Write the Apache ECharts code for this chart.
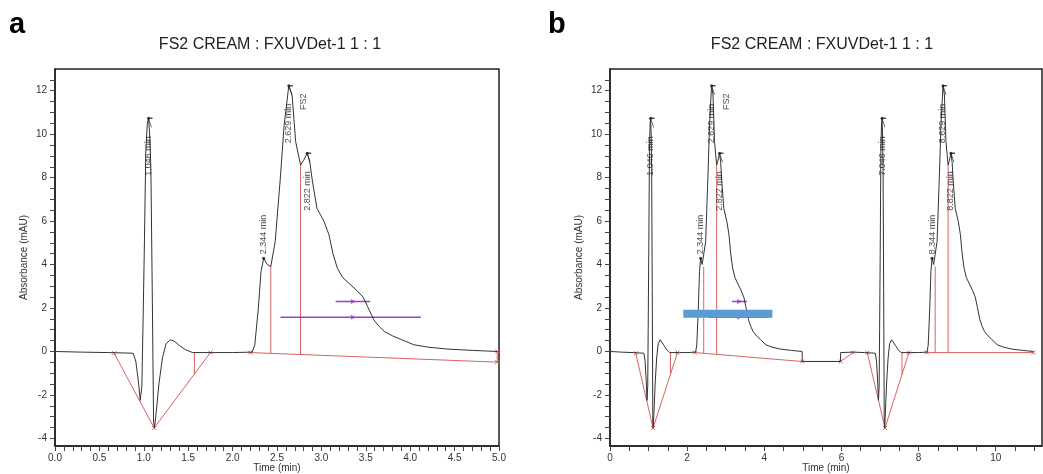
<!DOCTYPE html>
<html>
<head>
    <meta charset="utf-8"/>
    <title>FS2 CREAM : FXUVDet-1</title>
    <style>
        html, body {
            padding: 0;
            margin: 0;
            background: #fff;
        }

        #main {
            width: 1043px;
            height: 474px;
        }
    </style>
</head>
<body>
<div id="main"></div>
<script src="https://cdn.jsdelivr.net/npm/echarts@6/dist/echarts.min.js"></script>
<script>
    // one injection of the cream extract, 0 - 5 min
    var runTime = [0.00, 0.30, 0.60, 0.88, 0.91, 0.94, 0.96, 0.978, 0.99, 1.005, 1.023, 1.04, 1.053, 1.065,
        1.08, 1.095, 1.11, 1.12, 1.14, 1.17, 1.21, 1.25, 1.30, 1.34, 1.40, 1.47, 1.55, 1.80, 2.00, 2.22,
        2.25, 2.29, 2.32, 2.35, 2.39, 2.43, 2.48, 2.54, 2.58, 2.633, 2.67, 2.71, 2.765, 2.80, 2.84, 2.87,
        2.90, 2.95, 3.03, 3.085, 3.13, 3.18, 3.24, 3.32, 3.40, 3.47, 3.52, 3.59, 3.65, 3.71, 3.80, 3.90,
        4.04, 4.20, 4.42, 4.70, 4.98];
    var runAbs = [0.00, -0.03, -0.05, -0.08, -0.45, -1.4, -2.25, -1.6, 1.0, 4.5, 9.3, 10.5, 10.73, 10.1,
        8.4, 2.8, -3.2, -3.52, -2.8, -1.5, -0.3, 0.35, 0.54, 0.48, 0.28, 0.08, -0.05, -0.05, -0.05, -0.03,
        0.3, 2.0, 3.68, 4.29, 4.0, 3.91, 5.06, 8.12, 10.4, 12.23, 11.8, 9.66, 8.58, 8.8, 9.12, 8.7,
        7.8, 6.59, 5.98, 5.37, 4.5, 3.83, 3.4, 3.1, 2.8, 2.5, 2.07, 1.46, 1.15, 0.92, 0.72, 0.55,
        0.31, 0.2, 0.11, 0.05, 0.0];

    // panel b: baseline offset between the two injections, second one starts at 6 min
    var gapTime = [4.985, 5.975, 5.98];
    var gapAbs = [-0.46, -0.46, -0.05];
    var secondInjection = 6.0;

    var peakTime = [1.053, 2.35, 2.633, 2.84];
    var peakAbs = [10.73, 4.29, 12.23, 9.12];
    var peakNamesA = ['1.046 min', '2.344 min', '2.629 min', '2.822 min'];
    var peakNamesB = ['7.046 min', '8.344 min', '8.629 min', '8.822 min'];
    var peakAbove = [false, true, false, false];
    var namedPeak = 2; // FS2

    // integration baselines (red)
    var redPathsA = [
        [[0.666, -0.08], [1.117, -3.52], [1.75, -0.05]],
        [[2.2, -0.05], [4.98, -0.49], [4.98, 0.0]]
    ];
    var redPathsB = [
        [[0.666, -0.08], [1.117, -3.52], [1.75, -0.05]],
        [[2.2, -0.05], [4.98, -0.46], [5.98, -0.46], [6.3, -0.05]],
        [[6.67, -0.05], [7.13, -3.52], [7.75, -0.05]],
        [[8.21, -0.05], [10.98, -0.05]]
    ];
    // drop lines: time, from, to
    var dropsA = [[1.57, -0.05, -1.04], [2.43, -0.086, 3.91], [2.765, -0.139, 8.58]];
    var dropsB = [[1.57, -0.05, -1.04], [2.43, -0.084, 3.91], [2.765, -0.133, 8.58],
        [7.57, -0.05, -1.07], [8.43, -0.05, 3.91], [8.765, -0.05, 8.58]];

    // purple window markers and the blue highlight in b
    var hashFrom = [3.16, 2.54];
    var hashTo = [3.55, 4.12];
    var hashLevel = [2.30, 1.58];
    var hashMark = 3.36;
    var barFrom = 1.90, barTo = 4.21, barLevel = 1.74;

    var yLabels = [-4, -2, 0, 2, 4, 6, 8, 10, 12];
    var xLabelsA = [0, 0.5, 1.0, 1.5, 2.0, 2.5, 3.0, 3.5, 4.0, 4.5, 5.0];
    var xLabelsB = [0, 2, 4, 6, 8, 10];

    var TITLE = 'FS2 CREAM : FXUVDet-1 1 : 1';
    var FONT = 'Liberation Sans, Arial, sans-serif';
    var RED = '#d9635f';
    var PURPLE = '#9b3fd0';
    var INK = '#333';

    function steps(from, to, step) {
        var out = [];
        for (var v = from; v <= to + 1e-9; v += step) {
            out.push(Math.round(v * 100) / 100);
        }
        return out;
    }

    function pairs(xs, ys, shift) {
        var out = [];
        for (var i = 0; i < xs.length; i++) {
            out.push([xs[i] + (shift || 0), ys[i]]);
        }
        return out;
    }

    var traceA = pairs(runTime, runAbs);
    var traceB = traceA.concat(pairs(gapTime, gapAbs), pairs(runTime, runAbs, secondInjection));

    function lineSeries(idx, data, color, width, z) {
        return {
            type: 'line', xAxisIndex: idx, yAxisIndex: idx, data: data,
            symbol: 'none', showSymbol: false, silent: true, animation: false,
            lineStyle: {color: color, width: width}, z: z
        };
    }

    function redSeries(idx, paths, drops) {
        var out = [];
        paths.forEach(function (p) {
            var s = lineSeries(idx, p, RED, 1, 3);
            s.symbol = 'path://M0,0L10,10M10,0L0,10';
            s.showSymbol = true;
            s.symbolSize = 4;
            s.itemStyle = {color: 'none', borderColor: RED, borderWidth: 1};
            out.push(s);
        });
        drops.forEach(function (d) {
            out.push(lineSeries(idx, [[d[0], d[1]], [d[0], d[2]]], RED, 1, 3));
        });
        return out;
    }

    function hashSeries(idx) {
        var out = [];
        for (var i = 0; i < hashLevel.length; i++) {
            out.push(lineSeries(idx, [[hashFrom[i], hashLevel[i]], [hashTo[i], hashLevel[i]]], PURPLE, 1.5, 4));
        }
        out.push({
            type: 'scatter', xAxisIndex: idx, yAxisIndex: idx, silent: true, animation: false, z: 4,
            symbol: 'triangle', symbolRotate: -90, symbolSize: 5,
            itemStyle: {color: PURPLE},
            data: hashLevel.map(function (l) { return [hashMark, l]; })
        });
        return out;
    }

    function peakSeries(idx, names, shift) {
        var data = [];
        for (var i = 0; i < names.length; i++) {
            var above = peakAbove[i];
            data.push({
                value: [peakTime[i] + shift, peakAbs[i]],
                label: {
                    formatter: names[i],
                    align: above ? 'left' : 'right',
                    offset: above ? [4, 0] : [-18, 0]
                }
            });
        }
        return {
            type: 'scatter', xAxisIndex: idx, yAxisIndex: idx, silent: true, animation: false, z: 6,
            symbolSize: 3, itemStyle: {color: '#111'},
            label: {
                show: true, position: 'inside', rotate: 90, verticalAlign: 'middle',
                fontSize: 9, color: '#1a1a1a', fontFamily: FONT
            },
            data: data
        };
    }

    // little peak-apex flags drawn by the integrator
    function flagSeries(idx, shift) {
        var data = [];
        for (var i = 0; i < peakTime.length; i++) {
            if (!peakAbove[i]) {
                data.push([peakTime[i] + shift, peakAbs[i]]);
            }
        }
        return {
            type: 'scatter', xAxisIndex: idx, yAxisIndex: idx, silent: true, animation: false, z: 6,
            symbol: 'path://M0,0L4,0M0,0L3,9', symbolSize: [4, 9], symbolOffset: [2, 4.5],
            symbolKeepAspect: false,
            itemStyle: {color: 'none', borderColor: '#222', borderWidth: 1},
            data: data
        };
    }

    function fs2Series(idx) {
        return {
            type: 'scatter', xAxisIndex: idx, yAxisIndex: idx, silent: true, animation: false, z: 6,
            symbolSize: 0,
            label: {
                show: true, position: 'inside', rotate: 90, formatter: 'FS2',
                align: 'center', verticalAlign: 'middle', offset: [-16, 15],
                fontSize: 9, color: '#1a1a1a', fontFamily: FONT
            },
            data: [[peakTime[namedPeak], peakAbs[namedPeak]]]
        };
    }

    function yAxis(idx) {
        return {
            type: 'value', gridIndex: idx, min: -4.35, max: 13,
            name: 'Absorbance (mAU)', nameLocation: 'middle', nameGap: 26, nameMoveOverlap: false,
            nameTextStyle: {fontSize: 10, color: INK, fontFamily: FONT},
            axisLine: {show: true, lineStyle: {color: '#222', width: 1.5}},
            axisTick: {show: true, length: 5, customValues: steps(-4, 12.5, 0.5), lineStyle: {color: '#444'}},
            axisLabel: {customValues: yLabels, fontSize: 10, color: INK, margin: 8, fontFamily: FONT},
            splitLine: {show: false}
        };
    }

    function xAxis(idx, max, labels, tickStep, digits) {
        return {
            type: 'value', gridIndex: idx, min: 0, max: max,
            name: 'Time (min)', nameLocation: 'middle', nameGap: 17, nameMoveOverlap: false,
            nameTextStyle: {fontSize: 10, color: INK, fontFamily: FONT},
            axisLine: {show: true, onZero: false, lineStyle: {color: '#222', width: 1.5}},
            axisTick: {show: true, length: 5, customValues: steps(0, max, tickStep), lineStyle: {color: '#444'}},
            axisLabel: {
                customValues: labels, fontSize: 10, color: INK, margin: 7, fontFamily: FONT,
                formatter: function (v) { return v.toFixed(digits); }
            },
            splitLine: {show: false}
        };
    }

    var gridStyle = {show: true, borderColor: '#222', borderWidth: 1.5, containLabel: false, outerBoundsMode: 'none'};

    var series = [];
    series.push(lineSeries(0, traceA, '#333', 1, 5));
    series.push(lineSeries(1, traceB, '#333', 1, 5));
    series = series.concat(redSeries(0, redPathsA, dropsA), redSeries(1, redPathsB, dropsB));
    series = series.concat(hashSeries(0), hashSeries(1));
    series.push(lineSeries(1, [[barFrom, barLevel], [barTo, barLevel]], '#5b9bd5', 8, 7));
    series.push(peakSeries(0, peakNamesA, 0), peakSeries(1, peakNamesA, 0), peakSeries(1, peakNamesB, secondInjection));
    series.push(flagSeries(0, 0), flagSeries(1, 0), flagSeries(1, secondInjection));
    series.push(fs2Series(0), fs2Series(1));

    var chart = echarts.init(document.getElementById('main'), null, {renderer: 'canvas'});
    chart.setOption({
        animation: false,
        backgroundColor: '#fff',
        textStyle: {fontFamily: FONT},
        title: [
            {text: 'a', left: 4, top: 5, textStyle: {fontSize: 29, fontWeight: 'bold', color: '#000', fontFamily: FONT}},
            {text: 'b', left: 543, top: 5, textStyle: {fontSize: 29, fontWeight: 'bold', color: '#000', fontFamily: FONT}},
            {text: TITLE, left: 265, top: 32, textAlign: 'center', textStyle: {fontSize: 16, fontWeight: 'normal', color: '#222', fontFamily: FONT}},
            {text: TITLE, left: 817, top: 32, textAlign: 'center', textStyle: {fontSize: 16, fontWeight: 'normal', color: '#222', fontFamily: FONT}}
        ],
        grid: [
            echarts.util.extend({left: 55, right: 544, top: 69, bottom: 28}, gridStyle),
            echarts.util.extend({left: 610, right: 1, top: 69, bottom: 28}, gridStyle)
        ],
        xAxis: [xAxis(0, 5, xLabelsA, 0.1, 1), xAxis(1, 11.2, xLabelsB, 0.5, 0)],
        yAxis: [yAxis(0), yAxis(1)],
        series: series
    });
</script>
</body>
</html>
